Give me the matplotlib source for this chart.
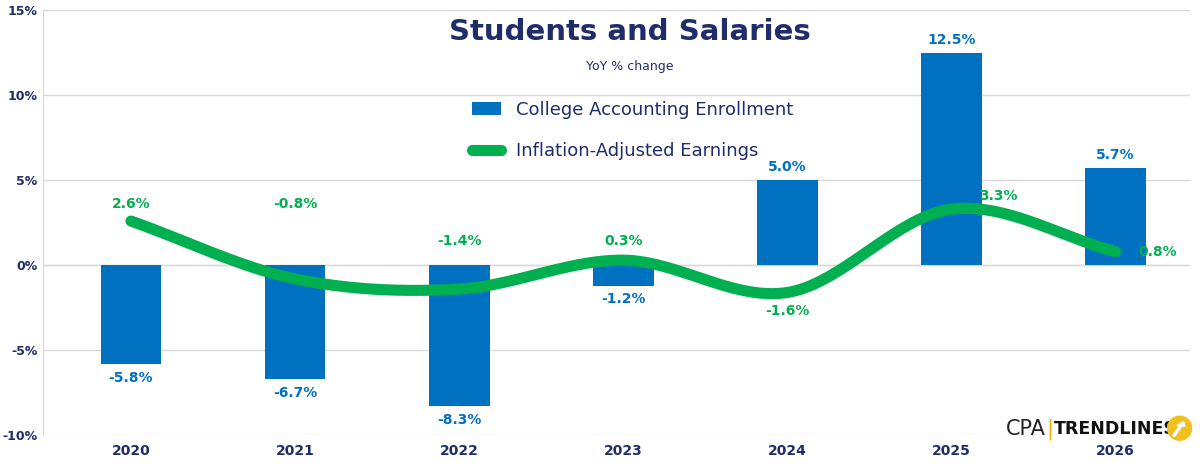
import matplotlib
matplotlib.use("Agg")
import matplotlib.pyplot as plt
import numpy as np
from matplotlib.patches import Ellipse, FancyArrow

years = ["2020", "2021", "2022", "2023", "2024", "2025", "2026"]
enroll = [-5.8, -6.7, -8.3, -1.2, 5.0, 12.5, 5.7]
earn = [2.6, -0.8, -1.4, 0.3, -1.6, 3.3, 0.8]
yticks = [-10, -5, 0, 5, 10, 15]

BLUE = "#0070C0"; GREEN = "#00B050"; NAVY = "#1F2D6B"

fig = plt.figure(figsize=(12, 4.68), dpi=100)
ax = fig.add_axes([0.036, 0.07, 0.956, 0.908])
x = np.arange(len(years))
bars = ax.bar(x, enroll, width=0.37, color=BLUE, zorder=2, label="College Accounting Enrollment")

pts = np.array(list(zip(x, earn)), dtype=float)
P = np.vstack([pts[0] - (pts[1] - pts[0]), pts, pts[-1] + (pts[-1] - pts[-2])])
xs, ys = [], []
for i in range(1, len(P) - 2):
    t = np.linspace(0, 1, 40)[:, None]
    p0, p1, p2, p3 = P[i-1], P[i], P[i+1], P[i+2]
    c = 0.5 * ((2*p1) + (-p0+p2)*t + (2*p0-5*p1+4*p2-p3)*t**2 + (-p0+3*p1-3*p2+p3)*t**3)
    xs.extend(c[:, 0]); ys.extend(c[:, 1])
line, = ax.plot(xs, ys, color=GREEN, lw=8, solid_capstyle="round", zorder=3, label="Inflation-Adjusted Earnings")

for i, v in enumerate(enroll):
    ax.text(i, v + (0.35 if v > 0 else -0.4), f"{v:.1f}%", ha="center",
            va="bottom" if v > 0 else "top", color=BLUE, fontsize=10, fontweight="bold", zorder=4)
eoff = [(0, 1.0), (0, 4.4), (0, 2.8), (0, 1.1), (0, -1.1), (0.17, 0.8, "left"), (0.14, 0, "left")]
for i, v in enumerate(earn):
    o = eoff[i]
    ax.text(i + o[0], v + o[1], f"{v:.1f}%", ha=o[2] if len(o) > 2 else "center", va="center",
            color=GREEN, fontsize=10, fontweight="bold", zorder=4)

ax.set_ylim(-10, 15)
ax.set_xlim(-0.535, 6.456)
ax.set_yticks(yticks)
ax.set_yticklabels([f"{t}%" for t in yticks], fontsize=9, fontweight="bold", color=NAVY)
ax.set_xticks(x)
ax.set_xticklabels(years, fontsize=10, fontweight="bold", color=NAVY)
ax.tick_params(length=0, pad=6)
ax.tick_params(axis="y", pad=4)
ax.grid(axis="y", color="#D9D9D9", lw=1, zorder=0)
for s in ["top", "right", "bottom"]:
    ax.spines[s].set_visible(False)
ax.spines["left"].set_color("#D9D9D9")
ax.axhline(0, color="#D9D9D9", lw=1, zorder=1)

fig.text(0.525, 0.915, "Students and Salaries", ha="center", fontsize=21, fontweight="bold", color=NAVY)
fig.text(0.525, 0.85, "YoY % change", ha="center", fontsize=9, color=NAVY)
ax.legend([bars, line], ["College Accounting Enrollment", "Inflation-Adjusted Earnings"],
          loc="upper left", bbox_to_anchor=(0.36, 0.825), frameon=False, fontsize=13,
          labelcolor=NAVY, handlelength=1.6, labelspacing=1.3)

fig.text(0.838, 0.083, "CPA", fontsize=15, color="#222", ha="left", va="center")
fig.text(0.872, 0.083, "|", fontsize=15, color="#E8B800", ha="left", va="center")
fig.text(0.878, 0.083, "TRENDLINES", fontsize=12.5, fontweight="bold", color="#111", ha="left", va="center")
fig.patches.append(Ellipse((0.983, 0.085), 0.02, 0.02 * 1200 / 468, transform=fig.transFigure,
                           color="#F0C020", zorder=5))
fig.patches.append(FancyArrow(0.978, 0.068, 0.006, 0.022, width=0.002, head_width=0.007, head_length=0.009,
                              transform=fig.transFigure, color="white", zorder=6))
fig.savefig("out.png", dpi=100, facecolor="white")
